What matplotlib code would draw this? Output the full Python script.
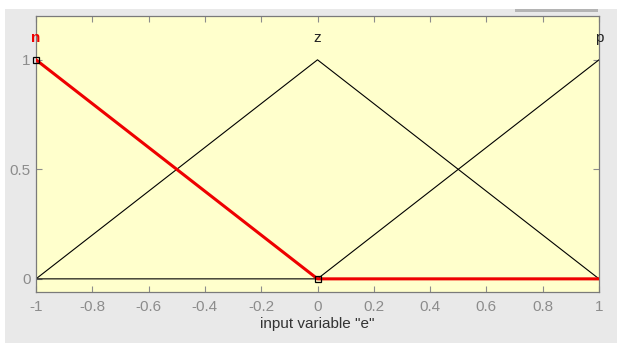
import matplotlib
matplotlib.use("Agg")
import matplotlib.pyplot as plt
from matplotlib.patches import Rectangle

# membership functions of input "e"
mf_names = ["n", "z", "p"]
mf_x = [
    [-1.0, 0.0, 1.0],   # n
    [-1.0, 0.0, 1.0],   # z
    [-1.0, 0.0, 1.0],   # p
]
mf_y = [
    [1.0, 0.0, 0.0],
    [0.0, 1.0, 0.0],
    [0.0, 0.0, 1.0],
]
peak_x = [-1.0, 0.0, 1.0]
selected = 0  # "n" is highlighted

x_ticks = [-1, -0.8, -0.6, -0.4, -0.2, 0, 0.2, 0.4, 0.6, 0.8, 1]
x_labels = ["-1", "-0.8", "-0.6", "-0.4", "-0.2", "0", "0.2", "0.4", "0.6", "0.8", "1"]
y_ticks = [0, 0.5, 1]
y_labels = ["0", "0.5", "1"]

plt.rcParams['font.family'] = ['Liberation Sans', 'DejaVu Sans']

fig = plt.figure(figsize=(6.17, 3.43), dpi=100, facecolor="#e9e9e9")
# white strips at the top and left edge of the screenshot
fig.patches.append(Rectangle((0, 0.975), 1, 0.025, transform=fig.transFigure,
                             facecolor="white", edgecolor="none", zorder=-5))
fig.patches.append(Rectangle((0, 0), 0.008, 1, transform=fig.transFigure,
                             facecolor="white", edgecolor="none", zorder=-5))
# small gray bar top right
fig.patches.append(Rectangle((515 / 617, 1 - 12 / 343), 83 / 617, 2.5 / 343,
                             transform=fig.transFigure, facecolor="#b4b4b4",
                             edgecolor="none", zorder=-4))

ax = fig.add_axes([36 / 617, 51 / 343, 563 / 617, 276 / 343])
ax.set_facecolor("#ffffcc")

for i in range(len(mf_names)):
    if i == selected:
        continue
    ax.plot(mf_x[i], mf_y[i], color="black", lw=0.8)
    ax.text(peak_x[i], 1.1, mf_names[i], ha="center", va="center",
            fontsize=11, color="#222222")

ax.plot(mf_x[selected], mf_y[selected], color="#ee0000", lw=2.2, zorder=5)
ax.text(peak_x[selected], 1.1, mf_names[selected], ha="center", va="center",
        fontsize=11, color="#ee0000", fontweight="bold")
ax.plot([-1, 0], [1, 0], ls="none", marker="s", ms=5, mfc="none",
        mec="black", mew=0.9, zorder=6, clip_on=False)

ax.set_xlim(-1, 1)
ax.set_ylim(-0.06, 1.2)
ax.set_xticks(x_ticks)
ax.set_xticklabels(x_labels)
ax.set_yticks(y_ticks)
ax.set_yticklabels(y_labels)
ax.tick_params(direction="in", length=4, colors="#8c8c8c", labelsize=11,
               top=True, right=True, width=0.8)
ax.tick_params(axis="x", pad=6)
ax.tick_params(axis="y", pad=4)
for s in ax.spines.values():
    s.set_color("#7a7a7a")
    s.set_linewidth(0.9)

ax.set_xlabel('input variable "e"', fontsize=11, color="#333333", labelpad=2)

fig.savefig("out.png", dpi=100, facecolor=fig.get_facecolor())
